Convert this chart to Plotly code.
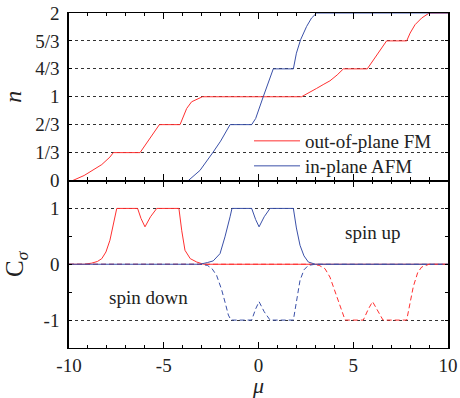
import plotly.graph_objects as go
from plotly.subplots import make_subplots

# ---- data ----
mu_n_fm = [-10, -9.8, -9.2, -8.98, -8.6, -8.27, -7.84, -7.66, -6.25, -5.75, -5.23,
           -4.14, -3.95, -3.79, -3.53, -3.2, -2.96, 2.27, 2.7, 3.07, 3.45, 3.77, 4.15,
           4.48, 5.74, 6.25, 6.76, 7.82, 8.0, 8.26, 8.61, 9.01, 10]
n_fm = [0, 0, 0.06, 0.09, 0.14, 0.19, 0.28, 0.333, 0.333, 0.5, 0.667,
        0.667, 0.77, 0.86, 0.94, 0.98, 1, 1, 1.05, 1.10, 1.15, 1.19, 1.26,
        1.333, 1.333, 1.5, 1.667, 1.667, 1.76, 1.86, 1.94, 2, 2]

mu_n_afm = [-10, -3.70, -3.09, -2.75, -2.39, -2.0, -1.68, -1.5, -0.36, -0.15, 0.25,
            0.61, 0.78, 1.84, 2.0, 2.22, 2.54, 2.8, 3.07, 10]
n_afm = [0, 0, 0.12, 0.22, 0.34, 0.47, 0.6, 0.667, 0.667, 0.74, 1.0,
         1.24, 1.333, 1.333, 1.52, 1.68, 1.84, 1.94, 2, 2]

mu_cu_fm = [-10, -9.2, -8.8, -8.5, -8.27, -8.05, -7.84, -7.65, -7.48, -6.38, -6.2,
            -5.99, -5.7, -5.37, -4.2, -4.05, -3.88, -3.6, -3.26, -2.9, 10]
cu_fm = [0, 0, 0.02, 0.05, 0.1, 0.22, 0.43, 0.75, 1, 1, 0.82,
         0.67, 0.85, 1, 1, 0.6, 0.25, 0.1, 0.04, 0, 0]

mu_cd_fm = [-10, 2.8, 3.2, 3.51, 3.77, 4.12, 4.38, 4.57, 5.53, 5.8, 6.02, 6.3,
            6.57, 7.82, 8.0, 8.17, 8.4, 8.61, 9.0, 10]
cd_fm = [0, 0, -0.02, -0.08, -0.23, -0.58, -0.85, -1, -1, -0.8, -0.67, -0.84,
         -1, -1, -0.7, -0.4, -0.15, -0.05, 0, 0]

mu_cu_afm = [-10, -3.1, -2.7, -2.39, -2.03, -1.77, -1.5, -1.4, -0.36, -0.15, 0.03,
             0.3, 0.61, 1.84, 2.0, 2.19, 2.4, 2.63, 3.0, 10]
cu_afm = [0, 0, 0.03, 0.06, 0.19, 0.49, 0.85, 1, 1, 0.8, 0.67,
          0.85, 1, 1, 0.65, 0.34, 0.15, 0.04, 0, 0]

mu_cd_afm = [-10, -3.1, -2.7, -2.45, -2.21, -1.95, -1.75, -1.59, -1.45, -0.36, -0.15,
             0.03, 0.3, 0.61, 1.84, 2.0, 2.19, 2.4, 2.63, 3.0, 10]
cd_afm = [0, 0, -0.02, -0.08, -0.2, -0.45, -0.7, -0.91, -1, -1, -0.8,
          -0.67, -0.85, -1, -1, -0.65, -0.29, -0.1, -0.02, 0, 0]

n_tickvals = [0, 1/3, 2/3, 1, 4/3, 5/3, 2]
n_ticktext = ["0", "1/3", "2/3", "1", "4/3", "5/3", "2"]
n_gridvals = [1/3, 2/3, 1, 4/3, 5/3]
c_tickvals = [-1, -0.5, 0, 0.5, 1]
c_ticktext = ["-1", "", "0", "", "1"]
c_gridvals = [-1, 1]
x_tickvals = [-10, -5, 0, 5, 10]
x_ticktext = ["-10", "-5", "0", "5", "10"]

legend_names = ["out-of-plane FM", "in-plane AFM"]

RED = "#ff3030"
BLUE = "#3a50a8"
FONT = "Liberation Serif, Times New Roman, serif"
DASH = "5px,3px"

fig = make_subplots(rows=2, cols=1, shared_xaxes=True, vertical_spacing=0,
                    row_heights=[0.5, 0.5])

fig.add_trace(go.Scatter(x=mu_n_fm, y=n_fm, mode="lines", name=legend_names[0],
                         legend="legend", line=dict(color=RED, width=1)), row=1, col=1)
fig.add_trace(go.Scatter(x=mu_n_afm, y=n_afm, mode="lines", name=legend_names[1],
                         legend="legend2", line=dict(color=BLUE, width=1)), row=1, col=1)

fig.add_trace(go.Scatter(x=mu_cu_fm, y=cu_fm, mode="lines", showlegend=False,
                         line=dict(color=RED, width=1)), row=2, col=1)
fig.add_trace(go.Scatter(x=mu_cu_afm, y=cu_afm, mode="lines", showlegend=False,
                         line=dict(color=BLUE, width=1)), row=2, col=1)
fig.add_trace(go.Scatter(x=mu_cd_fm, y=cd_fm, mode="lines", showlegend=False,
                         line=dict(color=RED, width=1, dash=DASH)), row=2, col=1)
fig.add_trace(go.Scatter(x=mu_cd_afm, y=cd_afm, mode="lines", showlegend=False,
                         line=dict(color=BLUE, width=1, dash=DASH)), row=2, col=1)

axis_common = dict(showline=True, linecolor="black", mirror="allticks",
                   ticks="inside", tickcolor="black", zeroline=False, automargin=False)

for r in (1, 2):
    fig.update_xaxes(range=[-10, 10], tickvals=x_tickvals, ticktext=x_ticktext,
                     ticklen=6, tickwidth=1, linewidth=1.2,
                     minor=dict(dtick=1, ticks="inside", ticklen=3, tickcolor="black",
                                showgrid=False),
                     showgrid=False, **axis_common, row=r, col=1)

fig.update_xaxes(showticklabels=False, row=1, col=1)
fig.update_xaxes(title=dict(text="<i>μ</i>", font=dict(size=22, family=FONT), standoff=6),
                 tickfont=dict(size=19, family=FONT), ticklabelstandoff=0, row=2, col=1)

fig.update_yaxes(range=[0, 2], tickvals=n_tickvals, ticktext=n_ticktext,
                 ticklen=3, showgrid=False, linewidth=1.5,
                 minor=dict(tickmode="array", tickvals=n_gridvals, ticks="",
                            showgrid=True, gridcolor="#333333", griddash="dot", gridwidth=1),
                 tickfont=dict(size=19, family=FONT), ticklabelstandoff=4,
                 title=dict(text="<i>n</i>", font=dict(size=24, family=FONT), standoff=8),
                 **axis_common, row=1, col=1)
fig.update_yaxes(range=[-1.5, 1.5], tickvals=c_tickvals, ticktext=c_ticktext,
                 ticklen=3, showgrid=False, linewidth=1.5,
                 minor=dict(tickmode="array", tickvals=c_gridvals, ticks="",
                            showgrid=True, gridcolor="#333333", griddash="dot", gridwidth=1),
                 tickfont=dict(size=19, family=FONT), ticklabelstandoff=4,
                 title=dict(text="C<sub><i>σ</i></sub>", font=dict(size=25, family=FONT),
                            standoff=13),
                 **axis_common, row=2, col=1)

fig.add_annotation(x=6, y=0.57, xref="x2", yref="y2", text="spin up", showarrow=False,
                   font=dict(size=19, family=FONT, color="#222222"))
fig.add_annotation(x=-5.8, y=-0.6, xref="x2", yref="y2", text="spin down", showarrow=False,
                   font=dict(size=19, family=FONT, color="#222222"))

legend_style = dict(xanchor="left", yanchor="middle", itemwidth=46,
                    bgcolor="rgba(0,0,0,0)", borderwidth=0,
                    font=dict(size=19, family=FONT))

fig.update_layout(
    width=460, height=398,
    margin=dict(l=69, r=12, t=13, b=50),
    paper_bgcolor="white", plot_bgcolor="white",
    font=dict(family=FONT, size=19, color="#222222"),
    showlegend=True,
    legend=dict(x=0.475, y=(348 - 141) / 335, **legend_style),
    legend2=dict(x=0.475, y=(348 - 166) / 335, **legend_style),
)

fig.write_html("out.html", config={"displayModeBar": False},
               post_script="document.body.style.margin='0';document.body.style.overflow='hidden';")
